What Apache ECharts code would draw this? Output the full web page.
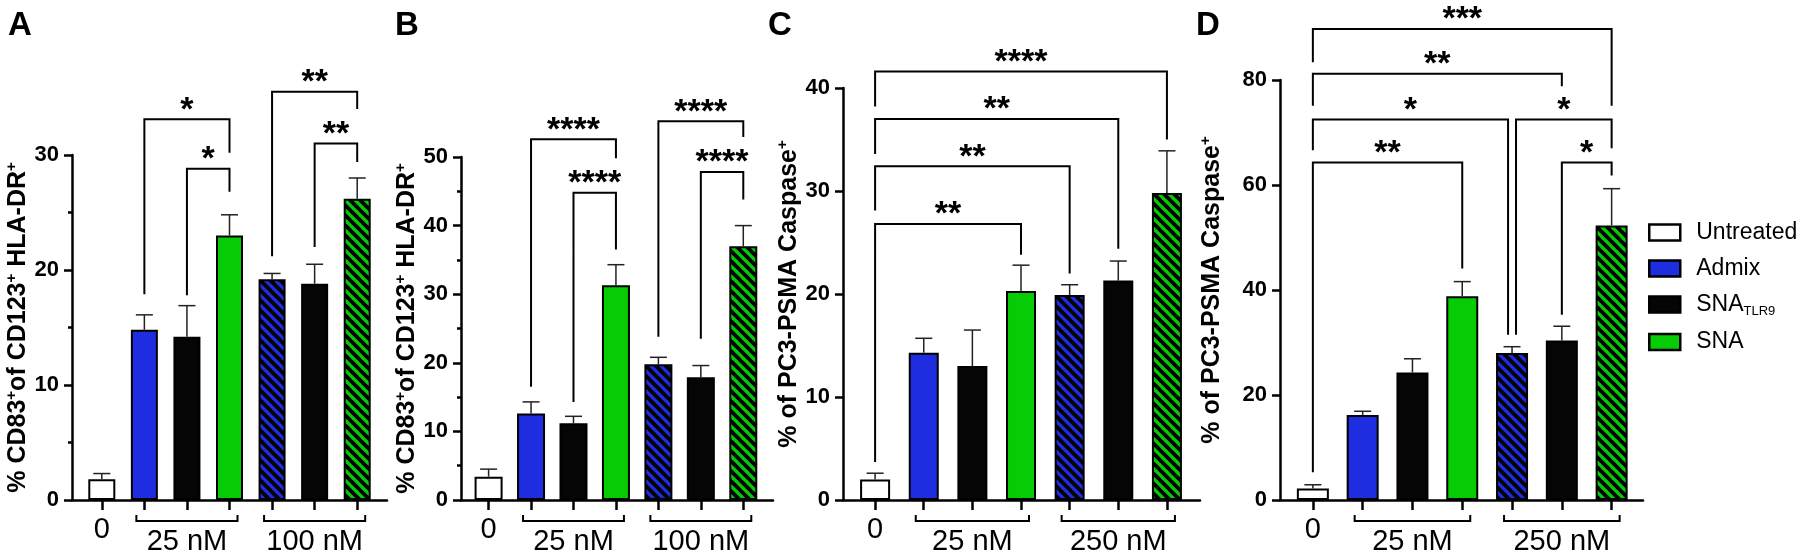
<!DOCTYPE html>
<html><head><meta charset="utf-8">
<script src="https://cdn.jsdelivr.net/npm/echarts@6/dist/echarts.min.js"></script>
<style>html,body{margin:0;padding:0;background:#fff}#c{width:1800px;height:559px}</style>
</head><body><div id="c"></div>
<script>
// ---------- data ----------
const seriesNames = ['Untreated', 'Admix', 'SNA_TLR9', 'SNA'];
const barGroup = [0, 1, 2, 3, 1, 2, 3];           // series index of each bar
const barHatched = [false, false, false, false, true, false, true];
const xPositions = [0, 1, 2, 3, 4, 5, 6];
const doseRanges = [[0, 0], [1, 3], [4, 6]];

// Panel A
const aMeans = [1.8, 14.8, 14.2, 23.0, 19.2, 18.8, 26.2];
const aUpper = [2.3, 16.1, 16.9, 24.8, 19.7, 20.5, 28.0];
const aTicks = [0, 10, 20, 30];
const aDoses = ['0', '25 nM', '100 nM'];
const aSig = [[1, 3, 33.1, 17.9, 30.2], [2, 3, 28.8, 17.8, 26.8], [4, 6, 35.5, 21.2, 34.0], [5, 6, 31.0, 22.0, 29.4]];
const aSigText = ['*', '*', '**', '**'];

// Panel B
const bMeans = [3.4, 12.6, 11.2, 31.3, 19.8, 17.9, 37.0];
const bUpper = [4.5, 14.3, 12.2, 34.3, 20.8, 19.6, 40.0];
const bTicks = [0, 10, 20, 30, 40, 50];
const bDoses = ['0', '25 nM', '100 nM'];
const bSig = [[1, 3, 52.6, 16.5, 49.8], [2, 3, 44.8, 14.3, 36.5], [4, 6, 55.2, 23.8, 52.9], [5, 6, 47.8, 23.5, 43.8]];
const bSigText = ['****', '****', '****', '****'];

// Panel C
const cMeans = [2.0, 14.3, 13.0, 20.3, 19.9, 21.3, 29.8];
const cUpper = [2.6, 15.7, 16.5, 22.8, 20.9, 23.2, 33.9];
const cTicks = [0, 10, 20, 30, 40];
const cDoses = ['0', '25 nM', '250 nM'];
const cSig = [[0, 3, 26.8, 3.7, 23.8], [0, 4, 32.4, 28.1, 22.0], [0, 5, 37.0, 33.6, 24.4], [0, 6, 41.6, 38.2, 35.0]];
const cSigText = ['**', '**', '**', '****'];

// Panel D
const dMeans = [2.2, 16.2, 24.3, 38.8, 28.0, 30.4, 52.3];
const dUpper = [2.9, 16.9, 26.9, 41.6, 29.2, 33.1, 59.3];
const dTicks = [0, 20, 40, 60, 80];
const dDoses = ['0', '25 nM', '250 nM'];
const dSig = [[0, 3, 64.3, 5.3, 44.1], [0, 3.92, 72.5, 66.6, 31.5], [4.08, 6, 72.5, 31.5, 67.0], [0, 5, 81.2, 75.1, 78.8], [0, 6, 89.7, 83.4, 75.1], [5, 6, 64.3, 35.3, 61.8]];
const dSigText = ['**', '*', '*', '**', '***', '*'];

const titleAB = '{t|% CD83}{s|+}{t|of CD123}{s|+}{t| HLA-DR}{s|+}';
const titleCD = '{t|% of PC3-PSMA Caspase}{s|+}';

// ---------- layout / style ----------
const FONT = '"Liberation Sans", Arial, sans-serif';
const barColors = ['#ffffff', '#1f2de0', '#050505', '#06cc06'];

const panels = [
  { letter: 'A', means: aMeans, upper: aUpper, ticks: aTicks, doses: aDoses, sig: aSig, sigText: aSigText, title: titleAB, minor: true,
    L: { left: 72, top: 155, width: 315, height: 345, xMin: -0.7, xMax: 6.7, barWidth: 27, nameGap: 39, letterX: 20 } },
  { letter: 'B', means: bMeans, upper: bUpper, ticks: bTicks, doses: bDoses, sig: bSig, sigText: bSigText, title: titleAB, minor: true,
    L: { left: 461, top: 157, width: 312, height: 343, xMin: -0.65, xMax: 6.7, barWidth: 28, nameGap: 33, letterX: 407 } },
  { letter: 'C', means: cMeans, upper: cUpper, ticks: cTicks, doses: cDoses, sig: cSig, sigText: cSigText, title: titleCD, minor: false,
    L: { left: 843, top: 88, width: 357, height: 412, xMin: -0.66, xMax: 6.68, barWidth: 30, nameGap: 39, letterX: 780 } },
  { letter: 'D', means: dMeans, upper: dUpper, ticks: dTicks, doses: dDoses, sig: dSig, sigText: dSigText, title: titleCD, minor: false,
    L: { left: 1280, top: 80, width: 363, height: 420, xMin: -0.66, xMax: 6.63, barWidth: 32, nameGap: 54, letterX: 1208 } }
];

function hatch(base) {
  const s = 10;
  const c = document.createElement('canvas');
  c.width = s; c.height = s;
  const g = c.getContext('2d');
  g.fillStyle = base; g.fillRect(0, 0, s, s);
  g.strokeStyle = '#000'; g.lineWidth = 3.8;
  g.beginPath();
  for (const k of [-s, 0, s]) { g.moveTo(k - 1, -1); g.lineTo(k + s + 1, s + 1); }
  g.stroke();
  return { image: c, repeat: 'repeat' };
}

function errRender(params, api) {
  const x = api.value(0), m = api.value(1), u = api.value(2);
  const a = api.coord([x, m]), b = api.coord([x, u]);
  const st = { stroke: '#222', lineWidth: 1.5 };
  return { type: 'group', children: [
    { type: 'line', shape: { x1: a[0], y1: a[1], x2: b[0], y2: b[1] }, style: st },
    { type: 'line', shape: { x1: b[0] - 8.5, y1: b[1], x2: b[0] + 8.5, y2: b[1] }, style: st }
  ] };
}

function sigRender(labels) {
  return function (params, api) {
    const x1 = api.value(0), x2 = api.value(1), yt = api.value(2), yl = api.value(3), yr = api.value(4);
    const pL = api.coord([x1, yl]), pTL = api.coord([x1, yt]), pTR = api.coord([x2, yt]), pR = api.coord([x2, yr]);
    return { type: 'group', children: [
      { type: 'polyline', shape: { points: [pL, pTL, pTR, pR] }, style: { stroke: '#000', lineWidth: 2, fill: 'none' } },
      { type: 'text', style: { text: labels[params.dataIndex], x: (pTL[0] + pTR[0]) / 2, y: pTL[1] - 9,
        align: 'center', verticalAlign: 'middle', fontSize: 34, fontWeight: 'bold', fontFamily: FONT, fill: '#000' } }
    ] };
  };
}

function doseRender(labels) {
  return function (params, api) {
    const from = api.value(0), to = api.value(1);
    const p1 = api.coord([from, 0]), p2 = api.coord([to, 0]);
    const txt = labels[params.dataIndex];
    const children = [];
    if (from === to) {
      children.push({ type: 'text', style: { text: txt, x: p1[0], y: p1[1] + 30, align: 'center', verticalAlign: 'middle',
        fontSize: 29, fontFamily: FONT, fill: '#000' } });
    } else {
      const y = p1[1] + 21, xa = p1[0] - 8, xb = p2[0] + 8;
      children.push({ type: 'polyline', shape: { points: [[xa, y - 6], [xa, y], [xb, y], [xb, y - 6]] },
        style: { stroke: '#000', lineWidth: 2, fill: 'none' } });
      children.push({ type: 'text', style: { text: txt, x: (p1[0] + p2[0]) / 2, y: p1[1] + 42, align: 'center', verticalAlign: 'middle',
        fontSize: 29, fontFamily: FONT, fill: '#000' } });
    }
    return { type: 'group', children };
  };
}

const option = {
  backgroundColor: '#fff', animation: false, textStyle: { fontFamily: FONT },
  grid: [], xAxis: [], yAxis: [], series: [], graphic: [],
  legend: {
    data: seriesNames, orient: 'vertical', left: 1643, top: 216, icon: 'rect',
    itemWidth: 31, itemHeight: 16, itemGap: 13, selectedMode: false,
    itemStyle: { borderColor: '#000', borderWidth: 2.5 },
    formatter: n => n === 'SNA_TLR9' ? '{t|SNA}{sub|TLR9}' : '{t|' + n + '}',
    textStyle: { color: '#000', fontFamily: FONT, rich: {
      t: { fontSize: 23, fontFamily: FONT, color: '#000', padding: [0, 0, 0, 11], lineHeight: 26 },
      sub: { fontSize: 13, fontFamily: FONT, color: '#000', verticalAlign: 'bottom', lineHeight: 10 }
    } }
  }
};

const axisLineStyle = { color: '#000', width: 2.5 };
panels.forEach((p, i) => {
  const L = p.L;
  option.grid.push({ left: L.left, top: L.top, width: L.width, height: L.height, containLabel: false });
  option.xAxis.push({ type: 'value', gridIndex: i, min: L.xMin, max: L.xMax,
    axisLine: { show: true, onZero: false, lineStyle: axisLineStyle },
    axisTick: { show: true, customValues: xPositions, length: 10, lineStyle: axisLineStyle },
    axisLabel: { show: false }, splitLine: { show: false } });
  option.yAxis.push({ type: 'value', gridIndex: i, min: p.ticks[0], max: p.ticks[p.ticks.length - 1],
    interval: p.ticks[1] - p.ticks[0],
    axisLine: { show: true, onZero: false, lineStyle: axisLineStyle },
    axisTick: { show: true, length: 8, lineStyle: axisLineStyle },
    minorTick: { show: p.minor, splitNumber: 2, length: 4, lineStyle: axisLineStyle },
    splitLine: { show: false }, minorSplitLine: { show: false },
    axisLabel: { color: '#000', fontWeight: 'bold', fontSize: 22, fontFamily: FONT, margin: 13 },
    name: p.title, nameLocation: 'middle', nameRotate: 90, nameGap: L.nameGap,
    nameTextStyle: { color: '#000', rich: {
      t: { fontSize: 25, fontWeight: 'bold', fontFamily: FONT, color: '#000', lineHeight: 28 },
      s: { fontSize: 15, fontWeight: 'bold', fontFamily: FONT, color: '#000', verticalAlign: 'top', lineHeight: 14 }
    } } });

  seriesNames.forEach((nm, g) => {
    const data = xPositions.filter(j => barGroup[j] === g).map(j => {
      const item = { value: [xPositions[j], p.means[j]] };
      if (barHatched[j]) item.itemStyle = { color: hatch(barColors[g]) };
      return item;
    });
    option.series.push({ type: 'bar', name: nm, xAxisIndex: i, yAxisIndex: i, barWidth: L.barWidth, barGap: '-100%',
      itemStyle: { color: barColors[g], borderColor: '#000', borderWidth: 2 }, data });
  });

  option.series.push({ type: 'custom', xAxisIndex: i, yAxisIndex: i, clip: false, z: 3,
    encode: { x: 0, y: [1, 2] },
    data: xPositions.map((x, j) => [x, p.means[j], p.upper[j]]), renderItem: errRender });

  option.series.push({ type: 'custom', xAxisIndex: i, yAxisIndex: i, clip: false, z: 4,
    encode: { x: [0, 1], y: [2, 3, 4] }, data: p.sig, renderItem: sigRender(p.sigText) });

  option.series.push({ type: 'custom', xAxisIndex: i, yAxisIndex: i, clip: false, z: 4,
    encode: { x: [0, 1] }, data: doseRanges, renderItem: doseRender(p.doses) });

  option.graphic.push({ type: 'text', x: L.letterX, y: 26, style: { text: p.letter, fontSize: 33, fontWeight: 'bold',
    fontFamily: FONT, fill: '#000', align: 'center', verticalAlign: 'middle' } });
});

const chart = echarts.init(document.getElementById('c'), null, { renderer: 'canvas' });
chart.setOption(option);
</script></body></html>
